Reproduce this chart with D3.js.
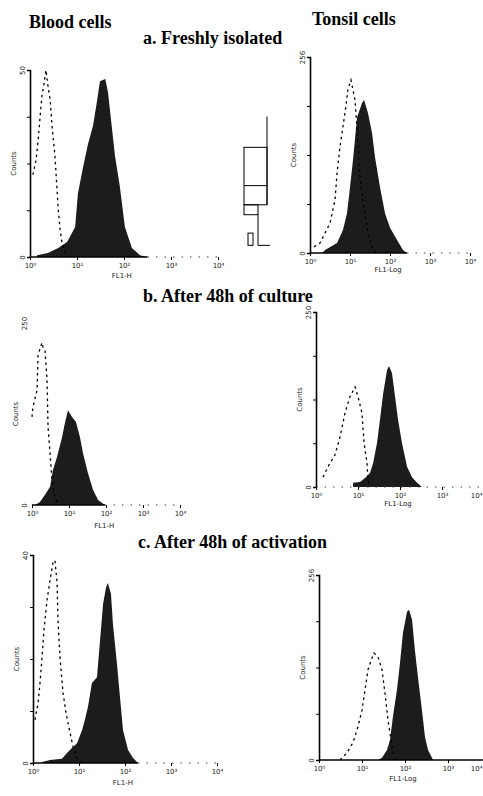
<!DOCTYPE html>
<html>
<head>
<meta charset="utf-8">
<script src="https://cdn.jsdelivr.net/npm/d3@7"></script>
<style>
  body { margin: 0; background: #fff; }
  svg { display: block; }
  .title { font-family: "Liberation Serif", "Times New Roman", serif; font-weight: bold; font-size: 18px; fill: #000; }
  .tick text, .lab { font-family: "DejaVu Sans", sans-serif; font-size: 7px; fill: #222; }
</style>
</head>
<body>
<svg id="fig" width="483" height="796"></svg>
<script>
// FACS histograms: [channel (0-1024 over 4 log decades), cell count]
const bloodFreshStained = [[38,0.5],[97,1.1],[154,2.4],[202,4],[246,8],[261,17],[289,24],[315,30],[343,35],[366,42],[381,47],[410,47.6],[425,44],[445,35],[463,27],[489,19],[517,8],[555,2.4],[599,0.5],[637,0]];
const bloodFreshControl = [[16,22],[33,26],[44,31],[54,37],[65,43],[77,46.5],[87,50],[97,46],[110,42],[120,35],[136,27],[146,19],[154,12.6],[164,7.2],[174,4],[189,1.3],[207,0]];
const tonsilFreshStained = [[77,0],[96,3.9],[173,13],[211,30],[237,52],[256,86],[275,121],[301,177],[333,196],[346,200],[371,183],[397,157],[416,125],[448,86],[480,52],[512,33],[557,17],[595,4],[621,0]];
const tonsilFreshControl = [[26,8],[64,13],[96,26],[128,39],[160,69],[173,104],[192,139],[224,183],[243,214],[262,226],[288,200],[307,144],[320,99],[339,69],[371,26],[403,4],[429,0]];
const bloodCultureStained = [[21,0],[55,4],[90,14],[125,25],[145,48],[173,66],[208,93],[228,113],[249,130],[277,121],[304,114],[332,93],[353,71],[387,44],[422,21],[457,7],[505,0]];
const bloodCultureControl = [[0,121],[7,135],[35,158],[42,206],[69,223],[76,217],[90,213],[104,172],[111,107],[125,71],[138,34],[159,11],[180,0]];
const tonsilCultureStained = [[226,6],[268,7],[299,13],[329,20],[348,34],[372,63],[390,96],[409,133],[433,167],[445,173],[463,163],[482,129],[500,96],[524,63],[555,29],[585,14],[616,6],[646,0]];
const tonsilCultureControl = [[43,14],[73,29],[116,46],[146,71],[177,106],[207,129],[238,143],[256,129],[280,106],[293,63],[311,34],[317,10],[329,0]];
const bloodActivStained = [[50,0.2],[95,0.6],[161,0.8],[189,1.9],[217,2.9],[245,3.8],[273,6.3],[289,8.3],[306,10.8],[328,15.4],[356,16.5],[373,23.5],[390,30.6],[406,33.7],[417,34.6],[434,32.5],[445,26.7],[467,19.2],[484,12.7],[501,6.3],[529,2.5],[556,1.0],[584,0]];
const bloodActivControl = [[11,8.3],[28,11.5],[39,15.4],[50,20.2],[61,25.6],[78,31.3],[95,35.2],[111,38.5],[122,39],[134,34.6],[139,27.5],[150,20.4],[167,13.5],[184,9.6],[195,7.7],[206,5.8],[223,3.1],[250,0.6],[273,0]];
const tonsilActivStained = [[351,0],[375,3],[405,14],[423,28],[440,60],[464,97],[482,134],[500,176],[524,205],[536,208],[554,194],[571,152],[589,115],[613,69],[631,32],[649,14],[679,0]];
const tonsilActivControl = [[125,0],[167,10],[202,24],[232,46],[256,69],[274,97],[292,125],[315,141],[327,148],[351,143],[375,125],[393,92],[411,55],[435,18],[452,0]];

const yMax = [50, 256, 250, 250, 40, 256];
const decadeChannels = [0, 256, 512, 768, 1024];
const decadeLabels = ['10⁰', '10¹', '10²', '10³', '10⁴'];
const xLabels = ['FL1-H', 'FL1-Log', 'FL1-H', 'FL1-Log', 'FL1-H', 'FL1-Log'];
const columnTitles = ['Blood cells', 'Tonsil cells'];
const rowTitles = ['a. Freshly isolated', 'b. After 48h of culture', 'c. After 48h of activation'];
// levels of the small box glyph next to panel a (tonsil count scale)
const markerLevels = [178, 138, 88, 63, 50, 26, 10];

const svg = d3.select('#fig');

// titles
svg.append('text').attr('class', 'title').attr('x', 29).attr('y', 28).text(columnTitles[0]);
svg.append('text').attr('class', 'title').attr('x', 312).attr('y', 25).text(columnTitles[1]);
const rowTitlePos = [[143, 44], [143, 302], [138, 548]];
rowTitles.forEach((t, i) => {
  svg.append('text').attr('class', 'title').attr('x', rowTitlePos[i][0]).attr('y', rowTitlePos[i][1]).text(t);
});

// panel frames (pixels)
const panels = [
  { stained: bloodFreshStained, control: bloodFreshControl, x0: 30, x1: 218, top: 70, base: 257, yAxis: true, solidTo: 640, xlab: 21 },
  { stained: tonsilFreshStained, control: tonsilFreshControl, x0: 310, x1: 470, top: 57, base: 253, yAxis: true, solidTo: 620, xlab: 19 },
  { stained: bloodCultureStained, control: bloodCultureControl, x0: 32, x1: 180, top: 323, base: 505, yAxis: false, solidTo: 505, xlab: 23 },
  { stained: tonsilCultureStained, control: tonsilCultureControl, x0: 316, x1: 484, top: 312, base: 487, yAxis: true, solidTo: 0, xlab: 19 },
  { stained: bloodActivStained, control: bloodActivControl, x0: 33, x1: 217, top: 555, base: 763, yAxis: true, solidTo: 584, xlab: 22 },
  { stained: tonsilActivStained, control: tonsilActivControl, x0: 319, x1: 491, top: 575, base: 760, yAxis: true, solidTo: 1024, xlab: 21 }
];

const scales = [];

panels.forEach((p, i) => {
  const ymax = yMax[i];
  const x = d3.scaleLinear().domain([0, 1024]).range([p.x0, p.x1]);
  const y = d3.scaleLinear().domain([0, ymax]).range([p.base, p.top]);
  scales.push({ x, y });
  const g = svg.append('g');

  // stained (filled) histogram
  const area = d3.area().x(d => x(d[0])).y0(p.base).y1(d => y(d[1]));
  g.append('path').datum(p.stained).attr('d', area).attr('fill', '#1c1c1c');

  // isotype control (dotted outline)
  const line = d3.line().x(d => x(d[0])).y(d => y(d[1]));
  g.append('path').datum(p.control).attr('d', line)
    .attr('fill', 'none').attr('stroke', '#000').attr('stroke-width', 1.3)
    .attr('stroke-dasharray', '2.5,3.5');

  // y axis
  const ya = g.append('g').attr('transform', `translate(${p.x0},0)`)
    .call(d3.axisLeft(y).tickValues([0, ymax / 4, ymax / 2, ymax * 3 / 4, ymax]).tickSize(3)
      .tickFormat(d => (d === 0 || d === ymax) ? d : ''));
  ya.select('.domain').attr('stroke', p.yAxis ? '#000' : 'none').attr('stroke-width', 1.6);
  ya.selectAll('.tick line').attr('stroke', p.yAxis ? '#000' : 'none');
  ya.selectAll('.tick text').attr('transform', 'rotate(-90)')
    .attr('x', 0).attr('y', -5).attr('dy', 0).attr('text-anchor', 'middle');

  g.append('text').attr('class', 'lab')
    .attr('transform', `translate(${p.x0 - 14},${(p.top + p.base) / 2}) rotate(-90)`)
    .attr('text-anchor', 'middle').text('Counts');

  // x axis
  const xa = g.append('g').attr('transform', `translate(0,${p.base})`)
    .call(d3.axisBottom(x).tickValues(decadeChannels).tickSize(3).tickFormat((d, k) => decadeLabels[k]));
  xa.select('.domain').remove();
  xa.selectAll('.tick text').filter(d => x(d) > 474).attr('text-anchor', 'end').attr('x', 483 - x(1024) - 1);
  if (p.solidTo > 0) {
    g.append('line').attr('x1', x(0)).attr('x2', x(p.solidTo)).attr('y1', p.base).attr('y2', p.base)
      .attr('stroke', '#000').attr('stroke-width', 1.4);
  }
  if (p.solidTo < 1024) {
    g.append('line').attr('x1', x(p.solidTo)).attr('x2', x(1024)).attr('y1', p.base).attr('y2', p.base)
      .attr('stroke', '#444').attr('stroke-width', 1.2).attr('stroke-dasharray', '1.5,7');
  }

  g.append('text').attr('class', 'lab')
    .attr('x', x(500)).attr('y', p.base + p.xlab)
    .attr('text-anchor', 'middle').text(xLabels[i]);
});

// small box glyph between the panels of row a
const ym = scales[1].y;
const glyph = svg.append('g').attr('fill', 'none').attr('stroke', '#000').attr('stroke-width', 1);
glyph.append('line').attr('x1', 267).attr('x2', 267).attr('y1', ym(markerLevels[0])).attr('y2', ym(markerLevels[3]));
glyph.append('rect').attr('x', 244).attr('width', 23).attr('y', ym(markerLevels[1])).attr('height', ym(markerLevels[3]) - ym(markerLevels[1]));
glyph.append('line').attr('x1', 244).attr('x2', 267).attr('y1', ym(markerLevels[2])).attr('y2', ym(markerLevels[2]));
glyph.append('rect').attr('x', 244).attr('width', 14).attr('y', ym(markerLevels[3])).attr('height', ym(markerLevels[4]) - ym(markerLevels[3]));
glyph.append('path').attr('d', `M258,${ym(markerLevels[4])}V${ym(markerLevels[6])}H270`);
glyph.append('rect').attr('x', 248).attr('width', 5).attr('y', ym(markerLevels[5])).attr('height', ym(markerLevels[6]) - ym(markerLevels[5]));
</script>
</body>
</html>
